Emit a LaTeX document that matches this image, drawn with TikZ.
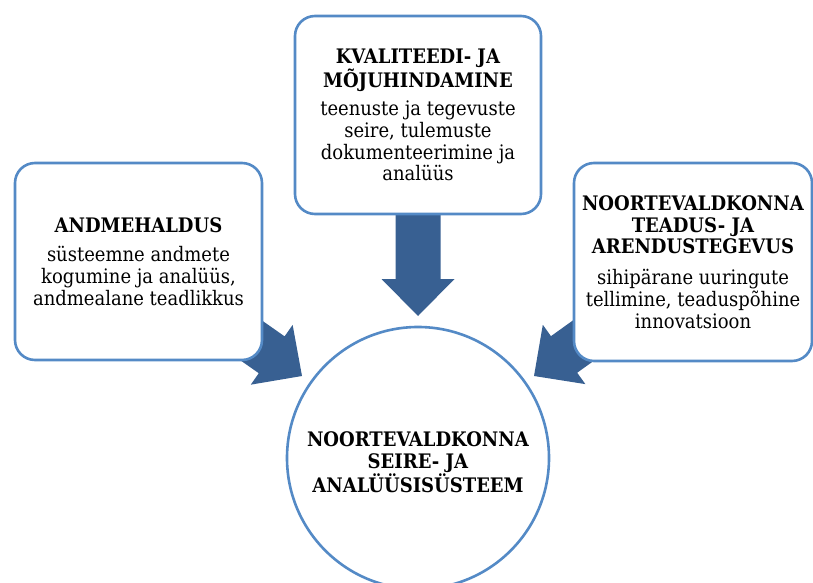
\documentclass[tikz,border=0pt]{standalone}
\usepackage{fontspec}
\setmainfont{DejaVu Serif Condensed}
\usetikzlibrary{calc}
\definecolor{boxline}{RGB}{84,138,198}
\definecolor{arrowfill}{RGB}{56,96,146}
\tikzset{
  boxnode/.style={draw=boxline, line width=2.6pt, fill=white, rounded corners=20pt,
    align=center, inner sep=0pt},
  circnode/.style={draw=boxline, line width=2.6pt, fill=white, circle,
    inner sep=0pt, minimum size=262pt},
  txt/.style={font=\fontsize{20}{21.7}\selectfont, align=center},
  bigarrow/.style={fill=arrowfill, draw=none}
}
\newcommand{\fatarrow}[2]{%
  \path (#2) coordinate (fa@tip)
        ($(#2)!37pt!(#1)$) coordinate (fa@h)
        (#1) coordinate (fa@t);
  \fill[bigarrow] ($(fa@t)!22.5pt!-90:(fa@h)$) -- ($(fa@h)!22.5pt!-90:(fa@tip)$)
     -- ($(fa@h)!36.5pt!-90:(fa@tip)$) -- (fa@tip)
     -- ($(fa@h)!36.5pt!90:(fa@tip)$) -- ($(fa@h)!22.5pt!90:(fa@tip)$)
     -- ($(fa@t)!22.5pt!90:(fa@h)$) -- cycle;}
\begin{document}
\begin{tikzpicture}[x=1pt,y=-1pt]
\useasboundingbox (0,0) rectangle (813,583);
% anchor coordinates
\coordinate (lc) at (138.5,261.5);
\coordinate (tc) at (418,115);
\coordinate (rc) at (693,262);
\coordinate (lt) at (302,376);
\coordinate (tt) at (418,316);
\coordinate (rt) at (534,376);
% arrows
\fatarrow{lc}{lt}
\fatarrow{tc}{tt}
\fatarrow{rc}{rt}
% boxes
\node[boxnode, txt, minimum width=247pt, minimum height=197pt] (left) at (lc)
  {\textbf{ANDMEHALDUS}\\[8pt]süsteemne andmete\\kogumine ja analüüs,\\andmealane teadlikkus};
\node[boxnode, txt, minimum width=246pt, minimum height=198pt] (top) at (tc)
  {\textbf{KVALITEEDI- JA}\\\textbf{MÕJUHINDAMINE}\\[7pt]teenuste ja tegevuste\\seire, tulemuste\\dokumenteerimine ja\\analüüs};
\node[boxnode, txt, minimum width=238pt, minimum height=198pt] (right) at (rc)
  {\textbf{NOORTEVALDKONNA}\\\textbf{TEADUS- JA}\\\textbf{ARENDUSTEGEVUS}\\[9pt]sihipärane uuringute\\tellimine, teaduspõhine\\innovatsioon};
\node[circnode] (center) at (418,458) {};
\node[txt, inner sep=0pt] (centertext) at (418,462)
  {\textbf{NOORTEVALDKONNA}\\\textbf{SEIRE- JA}\\\textbf{ANALÜÜSISÜSTEEM}};
\end{tikzpicture}
\end{document}
